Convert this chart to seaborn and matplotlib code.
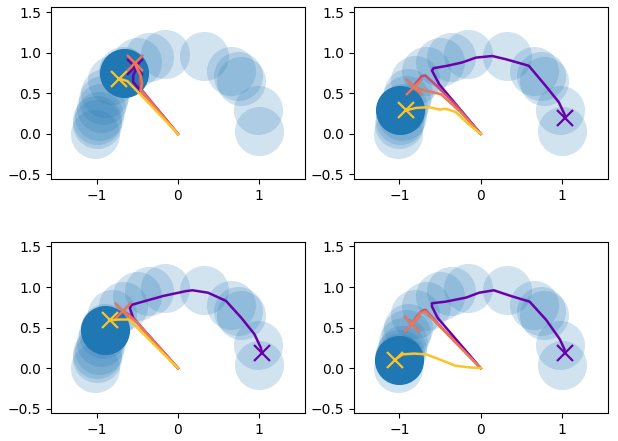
import matplotlib
matplotlib.use('Agg')
import matplotlib.pyplot as plt
import seaborn as sns

# -- Task goals (light circles, same in every panel) ---------
TASK_X = [1.00, 0.98, 0.78, 0.74, 0.65, 0.32, -0.16, -0.36, -0.50, -0.67,
          -0.81, -0.90, -0.92, -0.95, -0.97, -0.99, -1.00, -1.02]
TASK_Y = [0.04, 0.29, 0.65, 0.71, 0.78, 0.96, 0.99, 0.95, 0.89, 0.77,
          0.67, 0.50, 0.42, 0.32, 0.22, 0.17, 0.12, 0.00]

# -- Current goal per panel (dark circle) --------------------
GOAL_X = [-0.66, -0.99, -0.89, -1.01]
GOAL_Y = [0.75, 0.29, 0.47, 0.10]

# -- Trajectories: panel 1 (top left) ------------------------
P1_PURPLE_X = [0.0, -0.25, -0.50, -0.55, -0.55, -0.52, -0.53]
P1_PURPLE_Y = [0.0, 0.30, 0.58, 0.64, 0.72, 0.78, 0.83]
P1_MAGENTA_X = [0.0, -0.45, -0.47, -0.46, -0.50, -0.53]
P1_MAGENTA_Y = [0.0, 0.55, 0.65, 0.74, 0.80, 0.87]
P1_SALMON_X = [0.0, -0.46, -0.44, -0.46, -0.50, -0.53]
P1_SALMON_Y = [0.0, 0.54, 0.62, 0.72, 0.80, 0.88]
P1_YELLOW_X = [0.0, -0.35, -0.62, -0.72]
P1_YELLOW_Y = [0.0, 0.37, 0.65, 0.68]

# -- Trajectories: panel 2 (top right) -----------------------
P2_PURPLE_X = [0.0, -0.51, -0.60, -0.58, -0.41, -0.23, -0.06, 0.14, 0.31,
               0.59, 0.80, 0.96, 1.03, 1.04]
P2_PURPLE_Y = [0.0, 0.61, 0.78, 0.81, 0.84, 0.88, 0.94, 0.96, 0.92,
               0.84, 0.59, 0.39, 0.24, 0.20]
P2_MAGENTA_X = [0.0, -0.30, -0.55, -0.68, -0.73, -0.80, -0.82]
P2_MAGENTA_Y = [0.0, 0.35, 0.60, 0.72, 0.71, 0.62, 0.58]
P2_SALMON_X = [0.0, -0.25, -0.49, -0.70, -0.82]
P2_SALMON_Y = [0.0, 0.27, 0.49, 0.54, 0.58]
P2_YELLOW_X = [0.0, -0.15, -0.31, -0.43, -0.50, -0.64, -0.80, -0.92]
P2_YELLOW_Y = [0.0, 0.12, 0.27, 0.31, 0.30, 0.33, 0.32, 0.29]

# -- Trajectories: panel 3 (bottom left) ---------------------
P3_PURPLE_X = [0.0, -0.55, -0.59, -0.57, -0.43, -0.18, 0.10, 0.18, 0.37,
               0.59, 0.78, 0.94, 1.02, 1.03]
P3_PURPLE_Y = [0.0, 0.62, 0.74, 0.78, 0.82, 0.89, 0.95, 0.96, 0.93,
               0.83, 0.62, 0.42, 0.25, 0.19]
P3_MAGENTA_X = [0.0, -0.52, -0.60, -0.67]
P3_MAGENTA_Y = [0.0, 0.58, 0.66, 0.70]
P3_SALMON_X = [0.0, -0.50, -0.58, -0.67]
P3_SALMON_Y = [0.0, 0.56, 0.63, 0.70]
P3_YELLOW_X = [0.0, -0.60, -0.72, -0.83]
P3_YELLOW_Y = [0.0, 0.60, 0.60, 0.59]

# -- Trajectories: panel 4 (bottom right) --------------------
P4_PURPLE_X = [0.0, -0.53, -0.60, -0.60, -0.43, -0.18, -0.02, 0.16, 0.37,
               0.60, 0.80, 0.97, 1.03, 1.03]
P4_PURPLE_Y = [0.0, 0.62, 0.76, 0.80, 0.82, 0.87, 0.93, 0.96, 0.89,
               0.82, 0.60, 0.36, 0.23, 0.19]
P4_MAGENTA_X = [0.0, -0.50, -0.68, -0.73, -0.80, -0.84]
P4_MAGENTA_Y = [0.0, 0.52, 0.72, 0.70, 0.62, 0.55]
P4_SALMON_X = [0.0, -0.50, -0.68, -0.74, -0.82, -0.84]
P4_SALMON_Y = [0.0, 0.51, 0.70, 0.68, 0.58, 0.55]
P4_YELLOW_X = [0.0, -0.14, -0.31, -0.51, -0.67, -0.82, -0.96, -1.06]
P4_YELLOW_Y = [0.0, 0.01, 0.03, 0.11, 0.17, 0.18, 0.17, 0.10]

LINE_COLORS = ['#6a00a8', '#cc4778', '#ec7853', '#fdc328']

PANELS = [
    [(P1_PURPLE_X, P1_PURPLE_Y), (P1_MAGENTA_X, P1_MAGENTA_Y),
     (P1_SALMON_X, P1_SALMON_Y), (P1_YELLOW_X, P1_YELLOW_Y)],
    [(P2_PURPLE_X, P2_PURPLE_Y), (P2_MAGENTA_X, P2_MAGENTA_Y),
     (P2_SALMON_X, P2_SALMON_Y), (P2_YELLOW_X, P2_YELLOW_Y)],
    [(P3_PURPLE_X, P3_PURPLE_Y), (P3_MAGENTA_X, P3_MAGENTA_Y),
     (P3_SALMON_X, P3_SALMON_Y), (P3_YELLOW_X, P3_YELLOW_Y)],
    [(P4_PURPLE_X, P4_PURPLE_Y), (P4_MAGENTA_X, P4_MAGENTA_Y),
     (P4_SALMON_X, P4_SALMON_Y), (P4_YELLOW_X, P4_YELLOW_Y)],
]

fig, axes = plt.subplots(2, 2, figsize=(6.18, 4.41), dpi=100)
fig.subplots_adjust(left=0.0825, right=0.9833, top=0.9834, bottom=0.063,
                    wspace=0.193, hspace=0.365)
axes = axes.flatten()

for i, ax in enumerate(axes):
    sns.scatterplot(x=TASK_X, y=TASK_Y, s=1250, color='#1f77b4', alpha=0.2,
                    linewidth=0, ax=ax, legend=False)
    sns.scatterplot(x=[GOAL_X[i]], y=[GOAL_Y[i]], s=1250, color='#1f77b4',
                    alpha=1.0, linewidth=0, ax=ax, legend=False)
    for (xs, ys), c in zip(PANELS[i], LINE_COLORS):
        sns.lineplot(x=xs, y=ys, sort=False, estimator=None, color=c,
                     lw=1.8, ax=ax)
        ax.plot(xs[-1], ys[-1], 'x', ms=11, mew=1.6, color=c)
    ax.set_xlim(-1.56, 1.56)
    ax.set_ylim(-0.555, 1.56)
    ax.set_xticks([-1, 0, 1])
    ax.set_yticks([-0.5, 0.0, 0.5, 1.0, 1.5])

plt.savefig('out.png', dpi=100)
plt.close()
